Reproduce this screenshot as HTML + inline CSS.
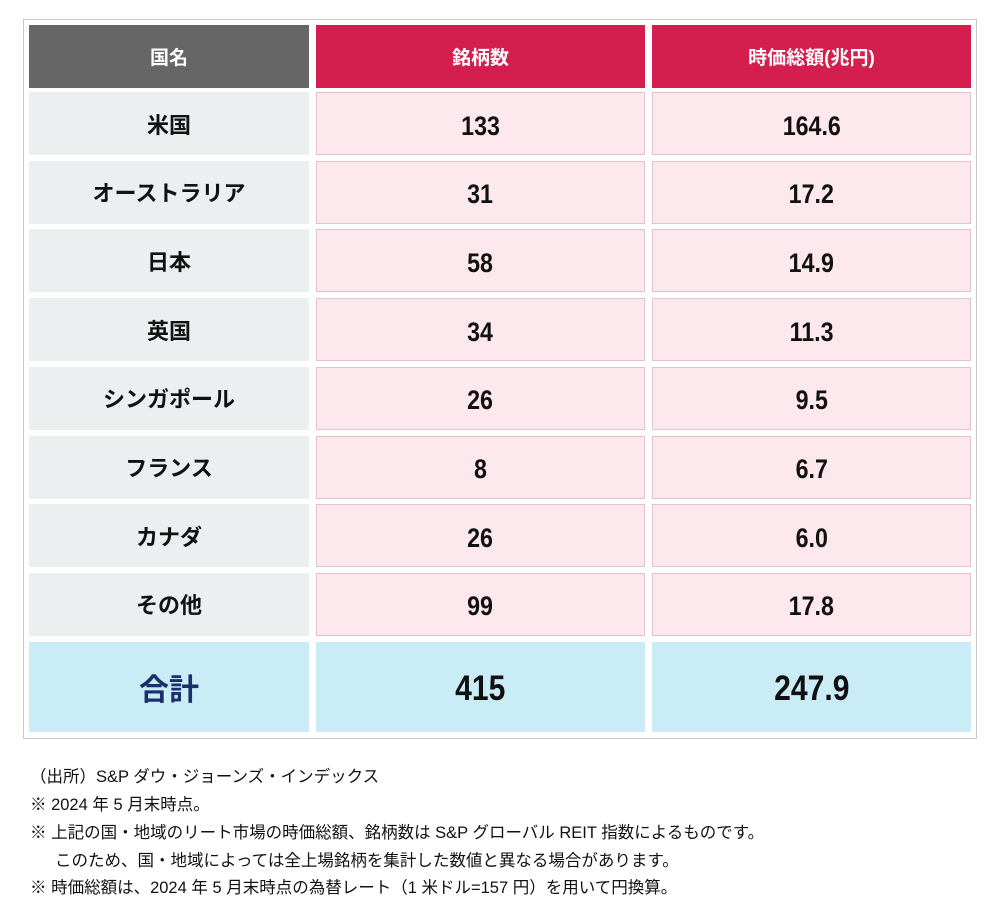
<!DOCTYPE html>
<html><head><meta charset="utf-8"><style>
body{margin:0;width:1001px;height:924px;background:#fff;position:relative;font-family:"Liberation Sans","Noto Sans CJK JP",sans-serif;overflow:hidden}
.frame{position:absolute;left:23px;top:19px;width:952px;height:718px;border:1px solid #c8c8c8}
.c{position:absolute;display:flex;align-items:center;justify-content:center;box-sizing:border-box;font-weight:bold;color:#111}
.c span{display:inline-block}
.h{top:25px;height:63px;color:#fff;font-size:19px}
.n{background:#ebeff0;font-size:22px}
.v{background:#fce8ed;border:1px solid #e2c3cc;font-size:27px;padding-top:5px}
.v span,.t span.num{transform:scaleX(0.86)}
.t{background:#c9ecf6;font-size:30px}
.t span.num{font-size:35px}
.note{position:absolute;left:30px;font-size:16.5px;color:#111;white-space:nowrap}
</style></head><body>
<div class="frame"></div>
<div class="c h" style="left:29px;width:280px;background:#666">国名</div>
<div class="c h" style="left:316px;width:329px;background:#d41f4e">銘柄数</div>
<div class="c h" style="left:652px;width:319px;background:#d41f4e">時価総額(兆円)</div>
<div id="rows"></div>
<div class="c t" style="left:29px;top:642px;width:280px;height:90px;color:#1a2f6b">合計</div>
<div class="c t" style="left:316px;top:642px;width:329px;height:90px;padding-top:4px"><span class="num">415</span></div>
<div class="c t" style="left:652px;top:642px;width:319px;height:90px;padding-top:4px"><span class="num">247.9</span></div>
<div class="note" style="top:763px">（出所）S&amp;P ダウ・ジョーンズ・インデックス</div>
<div class="note" style="top:791px">※ 2024 年 5 月末時点。</div>
<div class="note" style="top:819px">※ 上記の国・地域のリート市場の時価総額、銘柄数は S&amp;P グローバル REIT 指数によるものです。</div>
<div class="note" style="top:847px;left:55px">このため、国・地域によっては全上場銘柄を集計した数値と異なる場合があります。</div>
<div class="note" style="top:874px">※ 時価総額は、2024 年 5 月末時点の為替レート（1 米ドル=157 円）を用いて円換算。</div>
<script>
const countries=["米国","オーストラリア","日本","英国","シンガポール","フランス","カナダ","その他"];
const counts=[133,31,58,34,26,8,26,99];
const caps=["164.6","17.2","14.9","11.3","9.5","6.7","6.0","17.8"];
const host=document.getElementById('rows');
countries.forEach((c,i)=>{
  const top=92+i*68.7;
  const mk=(cls,left,w,txt,name)=>{
    const d=document.createElement('div');
    d.className='c '+cls;
    d.style.cssText=`left:${left}px;top:${top}px;width:${w}px;height:63px`;
    const s=document.createElement('span');
    s.textContent=txt;
    d.appendChild(s);
    
    
    host.appendChild(d);
  };
  mk('n',29,280,c,'country-cell');
  mk('v',316,329,String(counts[i]),'count-cell');
  mk('v',652,319,caps[i],'marketcap-cell');
});
</script>
</body></html>
